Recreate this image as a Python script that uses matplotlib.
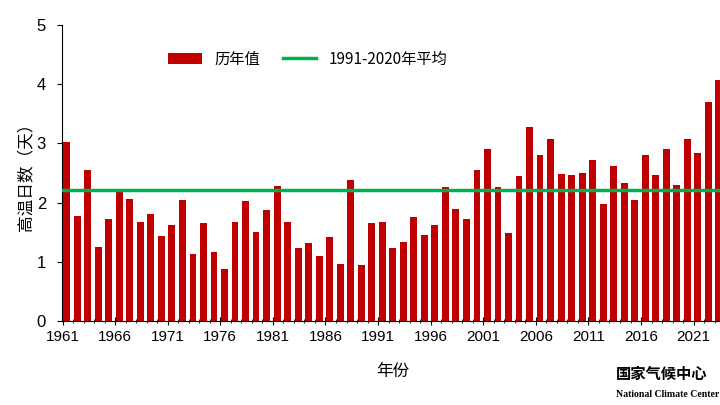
import matplotlib
matplotlib.use("Agg")
import matplotlib.pyplot as plt
import numpy as np

plt.rcParams['font.family'] = ['Noto Sans CJK SC', 'DejaVu Sans']

years = list(range(1961, 2024))
values = [3.02,1.78,2.55,1.25,1.73,2.20,2.06,1.67,1.80,1.43,
          1.62,2.05,1.13,1.65,1.16,0.88,1.67,2.02,1.50,1.88,
          2.28,1.68,1.24,1.31,1.10,1.42,0.97,2.38,0.95,1.65,
          1.68,1.23,1.33,1.75,1.45,1.62,2.27,1.90,1.72,2.55,
          2.90,2.27,1.48,2.45,3.28,2.80,3.08,2.48,2.47,2.50,
          2.72,1.98,2.62,2.33,2.04,2.80,2.47,2.91,2.29,3.08,
          2.83,3.70,4.07]
mean_value = 2.22
tick_years = [1961,1966,1971,1976,1981,1986,1991,1996,2001,2006,2011,2016,2021]

fig = plt.figure(figsize=(7.2,4.05), dpi=100)
ax = fig.add_axes([62/720, 84/405, 1-62/720+0.005, 296/405])
x = np.arange(len(years))
bars = ax.bar(x, values, width=0.65, color='#C00000', label='历年值', zorder=2)
line = ax.axhline(mean_value, color='#00B050', lw=2.5, label='1991-2020年平均', zorder=3)
ax.set_xlim(-0.45, len(years)-0.55)
ax.set_ylim(0,5)
ax.set_yticks(range(6))
ax.set_xticks([years.index(t)-0.4 for t in tick_years])
ax.set_xticklabels([str(t) for t in tick_years], fontsize=11, family='Liberation Sans')
ax.set_xticks(x-0.4, minor=True)
ax.tick_params(axis='x', which='major', length=6, direction='inout')
ax.tick_params(axis='x', which='minor', length=3, direction='inout')
for lab in ax.get_yticklabels():
    lab.set_fontsize(12); lab.set_family('Liberation Sans')
ax.tick_params(axis='y', pad=8)
for s in ['top','right']:
    ax.spines[s].set_visible(False)
ax.set_ylabel('高温日数（天）', fontsize=12, labelpad=2)
ax.set_xlabel('年份', fontsize=12, labelpad=14)
ax.legend(handles=[bars, line], loc='upper left', bbox_to_anchor=(0.14,0.96), ncol=2, frameon=False, fontsize=11, handlelength=2.2, columnspacing=1.5)
fig.text(0.855, 0.065, '国家气候中心', fontsize=11, fontweight='bold', ha='left')
fig.text(0.855, 0.02, 'National Climate Center', fontsize=7, family='Liberation Serif', fontweight='bold', ha='left')
fig.savefig('out.png', dpi=100)
